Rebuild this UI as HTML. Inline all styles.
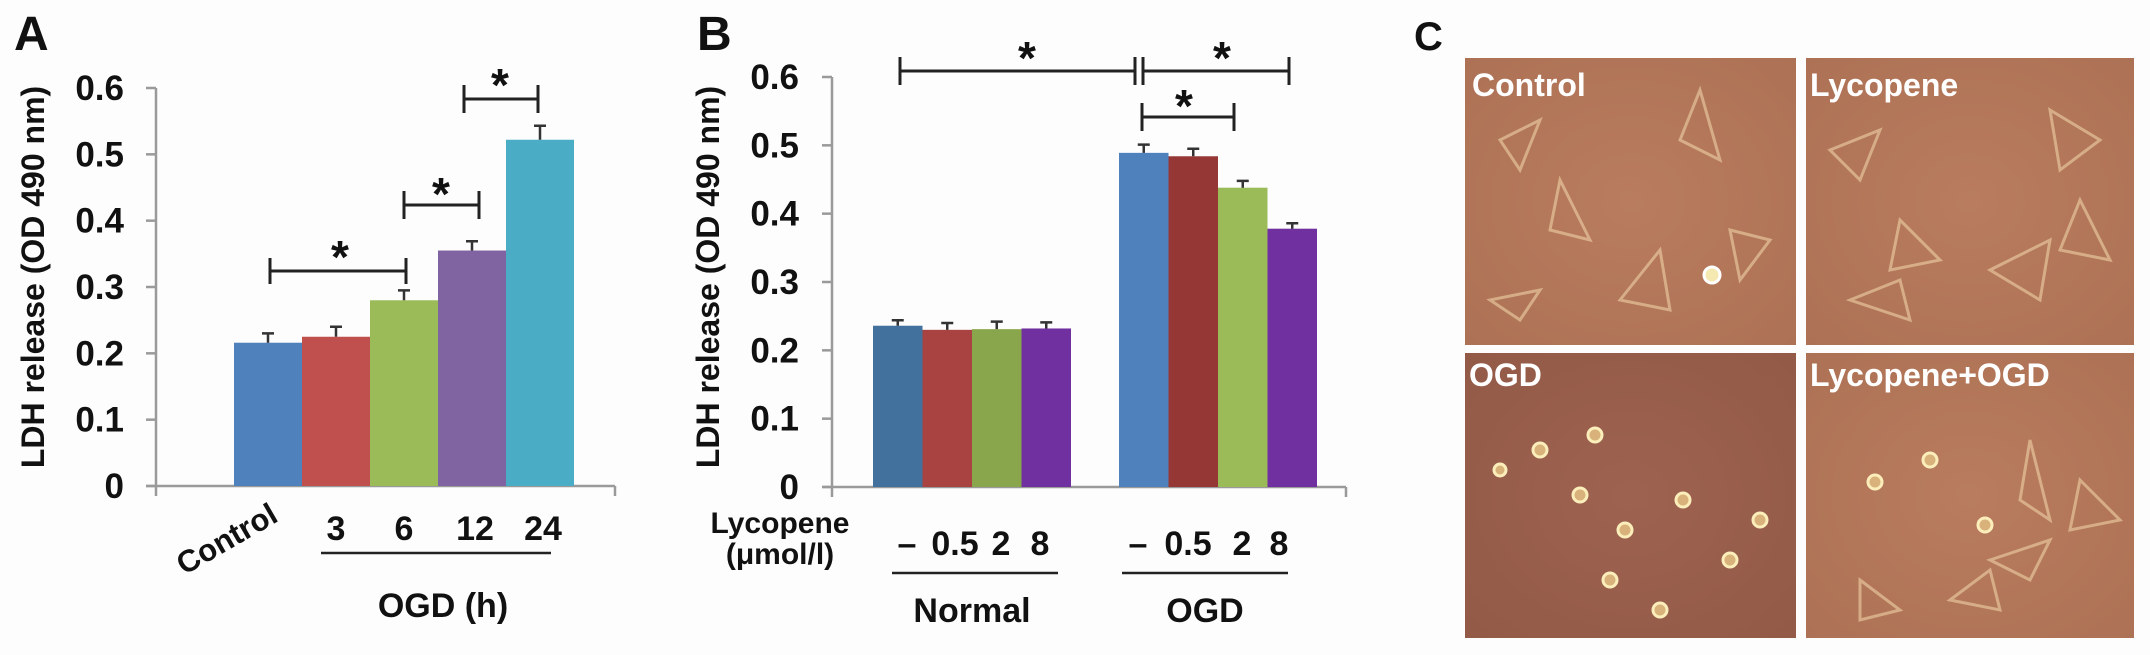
<!DOCTYPE html>
<html><head><meta charset="utf-8"><style>
html,body{margin:0;padding:0;background:#fdfdfd;}
svg{display:block;font-family:"Liberation Sans",Arial,sans-serif;font-weight:bold;}
</style></head><body>
<svg id="fig" width="2150" height="655" viewBox="0 0 2150 655" xmlns="http://www.w3.org/2000/svg">
<rect x="0" y="0" width="2150" height="655" fill="#fdfdfd"/>
<text x="14" y="50" font-size="48" fill="#111">A</text>
<text x="697" y="50" font-size="48" fill="#111">B</text>
<text x="1414" y="50" font-size="40" fill="#111">C</text>
<text transform="translate(44,277) rotate(-90)" text-anchor="middle" font-size="32" fill="#111">LDH release (OD 490 nm)</text>
<text transform="translate(719,277) rotate(-90)" text-anchor="middle" font-size="32" fill="#111">LDH release (OD 490 nm)</text>
<g id="gA"></g>
<g id="gB"></g>
<text transform="translate(232,548) rotate(-30)" text-anchor="middle" font-size="31" fill="#111">Control</text>
<line x1="321" y1="553" x2="551" y2="553" stroke="#222" stroke-width="2.5"/>
<text x="443" y="617" text-anchor="middle" font-size="34" fill="#111">OGD (h)</text>
<text x="780" y="533" text-anchor="middle" font-size="30" fill="#111">Lycopene</text>
<text x="780" y="564" text-anchor="middle" font-size="30" fill="#111">(μmol/l)</text>
<line x1="892" y1="573" x2="1058" y2="573" stroke="#222" stroke-width="2.5"/>
<line x1="1122" y1="573" x2="1288" y2="573" stroke="#222" stroke-width="2.5"/>
<text x="972" y="622" text-anchor="middle" font-size="34" fill="#111">Normal</text>
<text x="1205" y="622" text-anchor="middle" font-size="34" fill="#111">OGD</text>
<defs>
<radialGradient id="pg1" cx="50%" cy="50%" r="70%"><stop offset="0" stop-color="#b97c5e"/><stop offset="1" stop-color="#ad7155"/></radialGradient>
<radialGradient id="pg2" cx="50%" cy="50%" r="70%"><stop offset="0" stop-color="#9e6250"/><stop offset="1" stop-color="#935a48"/></radialGradient>
</defs>
<g>
<rect x="1465" y="58" width="331" height="287" fill="url(#pg1)"/>
<g stroke="#e6c49a" stroke-width="3" fill="none" opacity="0.7">
<path d="M1500 140 l40 -20 l-20 50 z M1560 180 l30 60 l-40 -10 z M1700 90 l20 70 l-40 -20 z M1620 300 l40 -50 l10 60 z M1730 230 l40 10 l-30 40 z M1490 300 l50 -10 l-20 30 z"/>
</g>
<circle cx="1712" cy="275" r="8" fill="#f5e8b0" stroke="#fff" stroke-width="3"/>
<text x="1472" y="96" font-size="32" fill="#fff">Control</text>
</g>
<g>
<rect x="1806" y="58" width="328" height="287" fill="url(#pg1)"/>
<g stroke="#e6c49a" stroke-width="3" fill="none" opacity="0.7">
<path d="M1830 150 l50 -20 l-20 50 z M1900 220 l40 40 l-50 10 z M1990 270 l60 -30 l-10 60 z M2050 110 l50 30 l-40 30 z M2080 200 l30 60 l-50 -10 z M1850 300 l50 -20 l10 40 z"/>
</g>
<text x="1810" y="96" font-size="32" fill="#fff">Lycopene</text>
</g>
<g>
<rect x="1465" y="353" width="331" height="285" fill="url(#pg2)"/>
<g fill="#d8b27a" stroke="#fbeebb" stroke-width="3">
<circle cx="1540" cy="450" r="7"/><circle cx="1595" cy="435" r="7"/><circle cx="1580" cy="495" r="7"/><circle cx="1625" cy="530" r="7"/><circle cx="1683" cy="500" r="7"/><circle cx="1730" cy="560" r="7"/><circle cx="1610" cy="580" r="7"/><circle cx="1660" cy="610" r="7"/><circle cx="1500" cy="470" r="6"/><circle cx="1760" cy="520" r="7"/>
</g>
<text x="1469" y="386" font-size="32" fill="#fff">OGD</text>
</g>
<g>
<rect x="1806" y="353" width="328" height="285" fill="url(#pg1)"/>
<g stroke="#e6c49a" stroke-width="3" fill="none" opacity="0.7">
<path d="M2030 440 l20 80 l-30 -20 z M2080 480 l40 40 l-50 10 z M1990 560 l60 -20 l-20 40 z M1860 580 l40 30 l-40 10 z M1950 600 l40 -30 l10 40 z"/>
</g>
<g fill="#d8b27a" stroke="#fbeebb" stroke-width="3"><circle cx="1875" cy="482" r="7"/><circle cx="1985" cy="525" r="7"/><circle cx="1930" cy="460" r="7"/></g>
<text x="1810" y="386" font-size="32" fill="#fff">Lycopene+OGD</text>
</g>
</svg>
<script>
var aCategories=["Control","3","6","12","24"];
var aValues=[0.216,0.225,0.280,0.355,0.522];
var aErrors=[0.014,0.015,0.015,0.014,0.021];
var bDoses=["–","0.5","2","8"];
var bNormal=[0.236,0.230,0.231,0.232];
var bOGD=[0.489,0.484,0.438,0.378];
var bNormalErr=[0.008,0.010,0.011,0.009];
var bOGDErr=[0.012,0.011,0.010,0.008];
var yTicks=["0","0.1","0.2","0.3","0.4","0.5","0.6"];
var tickVals=[0,0.1,0.2,0.3,0.4,0.5,0.6];
var NS="http://www.w3.org/2000/svg";
var aColors=["#4f81bd","#c0504d","#9bbb59","#8064a2","#4bacc6"];
var bColorsN=["#41719c","#a84342","#8aa64c","#7030a0"];
var bColorsO=["#4f81bd","#953735","#9bbb59","#7030a0"];

function mk(tag,attrs,parent){var e=document.createElementNS(NS,tag);for(var k in attrs)e.setAttribute(k,attrs[k]);parent.appendChild(e);return e;}

function axis(g,x0,y0,y6,xEnd,labRight,name){
  var ys=function(v){return y0-(y0-y6)*v/0.6;};
  var ax=mk("line",{x1:x0,y1:y0,x2:x0,y2:y6,stroke:"#9a9a9a","stroke-width":2.5},g);
  
  
  var xx=mk("line",{x1:x0-10,y1:y0,x2:xEnd,y2:y0,stroke:"#9a9a9a","stroke-width":2.5},g);
  
  
  var et=mk("line",{x1:xEnd,y1:y0,x2:xEnd,y2:y0+10,stroke:"#9a9a9a","stroke-width":2.5},g);
  
  
  var lt=mk("line",{x1:x0,y1:y0,x2:x0,y2:y0+10,stroke:"#9a9a9a","stroke-width":2.5},g);
  
  
  for(var i=0;i<tickVals.length;i++){
    var y=ys(tickVals[i]);
    var tk=mk("line",{x1:x0-10,y1:y,x2:x0,y2:y,stroke:"#9a9a9a","stroke-width":2.5},g);
    
    
    var t=mk("text",{x:labRight,y:y+12,"text-anchor":"end","font-size":35,fill:"#111"},g);
    t.textContent=yTicks[i];
    
    
  }
  return ys;
}
function bar(g,x,w,v,err,col,ys,name){
  var r=mk("rect",{x:x,y:ys(v),width:w,height:ys(0)-ys(v),fill:col},g);
  
  
  var cx=x+w/2;
  var e=mk("path",{d:"M"+cx+" "+ys(v)+" V"+ys(v+err)+" M"+(cx-6)+" "+ys(v+err)+" H"+(cx+6),stroke:"#333","stroke-width":2.5,fill:"none"},g);
  
  
}
function bracket(g,x1,x2,y,h,starX,starY,name){
  var p=mk("path",{d:"M"+x1+" "+(y-h)+" V"+(y+h)+" M"+x1+" "+y+" H"+x2+" M"+x2+" "+(y-h)+" V"+(y+h),stroke:"#222","stroke-width":3,fill:"none"},g);
  
  
  var s=mk("text",{x:starX,y:starY+22,"text-anchor":"middle","font-size":46,fill:"#111"},g);
  s.textContent="*";
  
  
}
var gA=document.getElementById("gA");
var ysA=axis(gA,156,486,88,615,124,"panel-a");
var aX0=234,aW=68;
for(var i=0;i<aValues.length;i++){
  bar(gA,aX0+i*aW,aW,aValues[i],aErrors[i],aColors[i],ysA,"bar-"+aCategories[i].toLowerCase());
  if(i>0){
    var t=mk("text",{x:aX0+i*aW+aW/2+(i>=3?3:0),y:540,"text-anchor":"middle","font-size":34,fill:"#111"},gA);
    t.textContent=aCategories[i];
    
    
  }
}
bracket(gA,270,406,271,13,340,251,"sig-bracket-control-6h");
bracket(gA,404,479,205,14,441,188,"sig-bracket-6h-12h");
bracket(gA,464,538,99,14,500,79,"sig-bracket-12h-24h");
var gB=document.getElementById("gB");
var ysB=axis(gB,832,487,77,1346,799,"panel-b");
var bW=49.5,g1=873,g2=1119;
var doseX1=[907,955,1001,1040],doseX2=[1138,1188,1242,1279];
for(var j=0;j<bDoses.length;j++){
  bar(gB,g1+j*bW,bW,bNormal[j],bNormalErr[j],bColorsN[j],ysB,"bar-normal-dose-"+j);
  bar(gB,g2+j*bW,bW,bOGD[j],bOGDErr[j],bColorsO[j],ysB,"bar-ogd-dose-"+j);
  var t1=mk("text",{x:doseX1[j],y:555,"text-anchor":"middle","font-size":34,fill:"#111"},gB);
  t1.textContent=bDoses[j];
  
  
  var t2=mk("text",{x:doseX2[j],y:555,"text-anchor":"middle","font-size":34,fill:"#111"},gB);
  t2.textContent=bDoses[j];
  
  
}
bracket(gB,900,1135,71,14,1027,52,"sig-bracket-normal-ogd");
bracket(gB,1143,1289,71,14,1222,52,"sig-bracket-ogd-8");
bracket(gB,1142,1234,117,14,1184,100,"sig-bracket-ogd-2");
</script>
</body></html>
